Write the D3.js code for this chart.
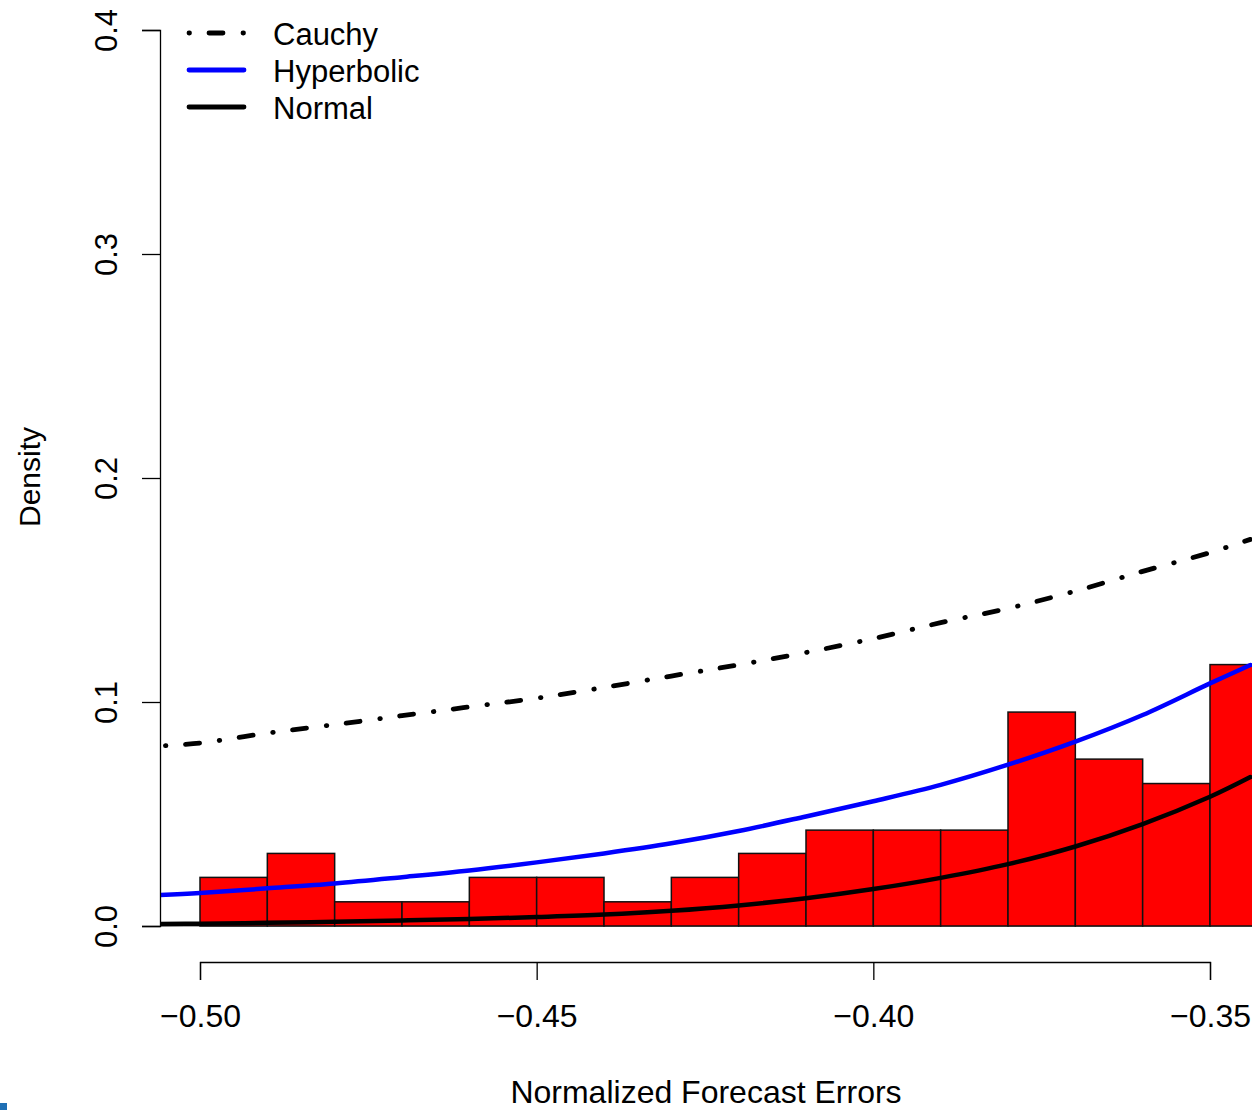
<!DOCTYPE html>
<html>
<head>
<meta charset="utf-8">
<script src="https://cdn.jsdelivr.net/npm/d3@7"></script>
<style>
  html, body { margin: 0; padding: 0; background: #fff; }
  svg { display: block; }
  text { font-family: "Liberation Sans", Arial, Helvetica, sans-serif; fill: #000; }
</style>
</head>
<body>
<svg id="chart" width="1256" height="1110"></svg>
<script>
// Histogram of normalized forecast errors (bin edges and densities)
const binStarts = [-0.50, -0.49, -0.48, -0.47, -0.46, -0.45, -0.44, -0.43,
                   -0.42, -0.41, -0.40, -0.39, -0.38, -0.37, -0.36, -0.35];
const binWidth = 0.01;
const binDensity = [0.0217, 0.0324, 0.0108, 0.0108, 0.0217, 0.0217, 0.0108, 0.0217,
                    0.0324, 0.0428, 0.0428, 0.0428, 0.0955, 0.0745, 0.0636, 0.1167];

// Fitted densities sampled along the x grid
const gridX = [-0.506, -0.50, -0.49, -0.48, -0.47, -0.46, -0.45, -0.44, -0.43, -0.42,
               -0.41, -0.40, -0.39, -0.38, -0.37, -0.36, -0.35, -0.344];
const cauchy = [0.0804, 0.0817, 0.0861, 0.0899, 0.0939, 0.0978, 0.1017, 0.1065, 0.1116, 0.1166,
                0.1221, 0.1283, 0.1354, 0.1418, 0.1495, 0.1583, 0.1667, 0.1726];
const hyperbolic = [0.0138, 0.0147, 0.0168, 0.0190, 0.0218, 0.0248, 0.0284, 0.0324, 0.0369, 0.0424,
                    0.0489, 0.0557, 0.0630, 0.0720, 0.0823, 0.0942, 0.1083, 0.1165];
const normal = [0.0009, 0.0010, 0.0014, 0.0019, 0.0025, 0.0031, 0.0040, 0.0051, 0.0068, 0.0092,
                0.0124, 0.0165, 0.0215, 0.0276, 0.0355, 0.0455, 0.0577, 0.0665];

// Axis ticks
const xTicks = [-0.50, -0.45, -0.40, -0.35];
const yTicks = [0.0, 0.1, 0.2, 0.3, 0.4];

// Legend entries
const legendLabels = ["Cauchy", "Hyperbolic", "Normal"];

const svg = d3.select("#chart");

const x = d3.scaleLinear().domain([-0.50, -0.35]).range([200, 1210]);
const y = d3.scaleLinear().domain([0, 0.4]).range([926, 30]);

const plotLeft = 160, plotRight = 1252, plotTop = 0, plotBottom = 926;

svg.append("defs").append("clipPath").attr("id", "plotClip")
  .append("rect")
  .attr("x", plotLeft).attr("y", plotTop)
  .attr("width", plotRight - plotLeft).attr("height", plotBottom - plotTop + 4);

const plot = svg.append("g").attr("clip-path", "url(#plotClip)");

// baseline under the bars
plot.append("line")
  .attr("x1", plotLeft).attr("x2", plotRight)
  .attr("y1", y(0)).attr("y2", y(0))
  .attr("stroke", "#555").attr("stroke-width", 1.2);

// histogram bars
plot.selectAll("rect.bar")
  .data(binStarts.map((s, i) => ({ x0: s, x1: s + binWidth, d: binDensity[i] })))
  .join("rect")
  .attr("class", "bar")
  .attr("x", d => x(d.x0))
  .attr("y", d => y(d.d))
  .attr("width", d => x(d.x1) - x(d.x0))
  .attr("height", d => y(0) - y(d.d))
  .attr("fill", "#ff0000")
  .attr("stroke", "#111")
  .attr("stroke-width", 1.5);

const line = d3.line()
  .x(d => x(d[0]))
  .y(d => y(d[1]))
  .curve(d3.curveCatmullRom.alpha(0.5));

const cauchyDash = "0.5 19.5 14 20";

plot.append("path")
  .datum(gridX.map((v, i) => [v, normal[i]]))
  .attr("d", line)
  .attr("fill", "none").attr("stroke", "#000")
  .attr("stroke-width", 4.5).attr("stroke-linecap", "round");

plot.append("path")
  .datum(gridX.map((v, i) => [v, hyperbolic[i]]))
  .attr("d", line)
  .attr("fill", "none").attr("stroke", "#0000ff")
  .attr("stroke-width", 4.5).attr("stroke-linecap", "round");

plot.append("path")
  .datum(gridX.map((v, i) => [v, cauchy[i]]))
  .attr("d", line)
  .attr("fill", "none").attr("stroke", "#000")
  .attr("stroke-width", 4.8).attr("stroke-linecap", "round")
  .attr("stroke-dasharray", cauchyDash)
  .attr("stroke-dashoffset", 48);

// x axis
const xAxis = d3.axisBottom(x)
  .tickValues(xTicks)
  .tickSize(18)
  .tickPadding(24)
  .tickFormat(d => d3.format(".2f")(d));
const gx = svg.append("g").attr("transform", "translate(0,962)").call(xAxis);
gx.select(".domain").attr("stroke", "#000").attr("stroke-width", 1.3);
gx.selectAll(".tick line").attr("stroke", "#000").attr("stroke-width", 1.3);
gx.selectAll(".tick text")
  .style("font-size", "32px")
  .style("font-family", "'Liberation Sans', Arial, sans-serif")
  .attr("fill", "#000");

// y axis
const yAxis = d3.axisLeft(y)
  .tickValues(yTicks)
  .tickSize(18)
  .tickFormat(d3.format(".1f"));
const gy = svg.append("g").attr("transform", "translate(160,0)").call(yAxis);
gy.select(".domain").attr("stroke", "#000").attr("stroke-width", 1.3);
gy.selectAll(".tick line").attr("stroke", "#000").attr("stroke-width", 1.3);
gy.selectAll(".tick text")
  .attr("x", null).attr("dy", null)
  .attr("transform", "translate(-43,0) rotate(-90)")
  .attr("text-anchor", "middle")
  .style("font-size", "31px")
  .style("font-family", "'Liberation Sans', Arial, sans-serif")
  .attr("fill", "#000");

// axis titles
svg.append("text")
  .attr("x", 706).attr("y", 1103)
  .attr("text-anchor", "middle")
  .style("font-size", "32px")
  .text("Normalized Forecast Errors");

svg.append("text")
  .attr("transform", "translate(40,477) rotate(-90)")
  .attr("text-anchor", "middle")
  .style("font-size", "30px")
  .text("Density");

// legend
const legend = svg.append("g");
const legendStyles = [
  { color: "#000", dash: cauchyDash },
  { color: "#0000ff", dash: null },
  { color: "#000", dash: null }
];
legendLabels.forEach((lab, i) => {
  const ly = 33 + i * 37;
  legend.append("line")
    .attr("x1", 189).attr("x2", 244)
    .attr("y1", ly).attr("y2", ly)
    .attr("stroke", legendStyles[i].color)
    .attr("stroke-width", 4.8)
    .attr("stroke-linecap", "round")
    .attr("stroke-dasharray", legendStyles[i].dash);
  legend.append("text")
    .attr("x", 273).attr("y", ly + 12)
    .style("font-size", "31px")
    .text(lab);
});

// small corner mark
svg.append("rect")
  .attr("x", 0).attr("y", 1103).attr("width", 7).attr("height", 7)
  .attr("fill", "#1f6fb4");
</script>
</body>
</html>
